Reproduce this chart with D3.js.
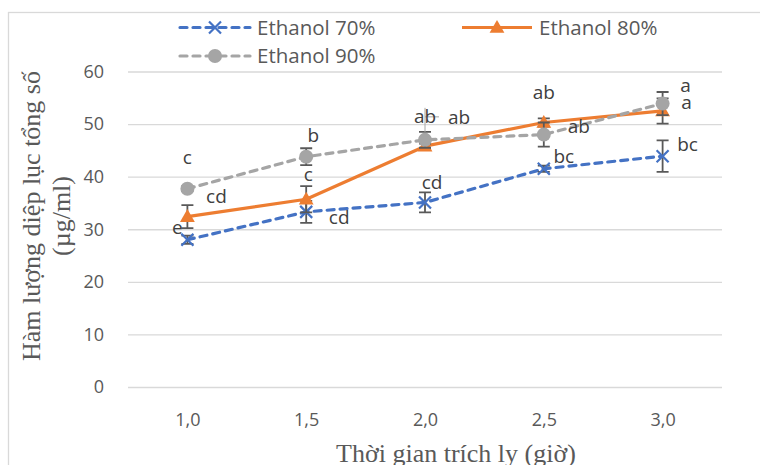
<!DOCTYPE html>
<html><head><meta charset="utf-8">
<script src="https://cdn.jsdelivr.net/npm/d3@7"></script>
<style>body{margin:0;background:#fff}svg{display:block}</style>
</head><body><svg id="c" width="760" height="465"></svg>
<script>
// ---- data ----
const categories = ["1,0", "1,5", "2,0", "2,5", "3,0"];
const seriesNames = ["Ethanol 70%", "Ethanol 80%", "Ethanol 90%"];
const values70 = [28.0, 33.3, 35.1, 41.5, 43.9];
const errors70 = [0.8, 2.1, 1.9, 0.6, 3.0];
const letters70 = ["e", "cd", "cd", "bc", "bc"];
const values80 = [32.4, 35.7, 45.8, 50.3, 52.5];
const errors80 = [2.2, 2.5, 0.5, 0.8, 2.4];
const letters80 = ["cd", "c", "ab", "ab", "a"];
const values90 = [37.7, 43.8, 47.0, 48.0, 53.9];
const errors90 = [0.5, 1.6, 1.5, 2.3, 2.2];
const letters90 = ["c", "b", "ab", "ab", "a"];
const yTicks = [0, 10, 20, 30, 40, 50, 60];
const xTitle = "Thời gian trích ly (giờ)";
const yTitle = ["Hàm lượng diệp lục tổng số", "(µg/ml)"];

// ---- layout / style ----
const svg = d3.select("#c");
const L = 128, R = 722, T = 71.5, B = 387;
const x = d3.scalePoint().domain(categories).range([L, R]).padding(0.5);
const y = d3.scaleLinear().domain([0, 60]).range([B, T]);
const sans = "'Open Sans', 'Noto Sans', sans-serif";
const serif = "'Liberation Serif', 'Times New Roman', serif";
const txt = "#595959";

// label offsets (px) relative to the point
const off70 = [[-10, -12], [33, 5], [7, -20], [20, -12], [25, -12]];
const off80 = [[29, -20], [2, -25], [0, -30], [0, -30], [24, -9]];
const off90 = [[0, -31], [7, -21], [34, -23], [35, -8], [23, -18]];

const series = [
  {name: seriesNames[0], v: values70, e: errors70, lab: letters70, off: off70, color: "#4472C4", dash: "7,6", marker: "x"},
  {name: seriesNames[1], v: values80, e: errors80, lab: letters80, off: off80, color: "#ED7D31", dash: null, marker: "tri"},
  {name: seriesNames[2], v: values90, e: errors90, lab: letters90, off: off90, color: "#A5A5A5", dash: "7,6", marker: "circle"}
];

// chart frame
svg.append("rect").attr("x", 8.5).attr("y", 12.5).attr("width", 800).attr("height", 500)
  .attr("fill", "none").attr("stroke", "#D9D9D9").attr("stroke-width", 1.3);

// gridlines
const yAxis = d3.axisLeft(y).tickValues(yTicks).tickSize(-(R - L)).tickPadding(24).tickFormat(d3.format("d"));
const gy = svg.append("g").attr("transform", `translate(${L},0)`).call(yAxis);
gy.select(".domain").remove();
gy.selectAll(".tick line").attr("stroke", "#D9D9D9").attr("stroke-width", 1.3);
gy.selectAll(".tick text").attr("fill", txt).style("font-family", sans).style("font-size", "18px");

const xAxis = d3.axisBottom(x).tickSize(0).tickPadding(26);
const gx = svg.append("g").attr("transform", `translate(0,${B})`).call(xAxis);
gx.select(".domain").remove();
gx.selectAll(".tick text").attr("fill", txt).style("font-family", sans).style("font-size", "18px");

// axis titles
svg.append("text").attr("x", 456).attr("y", 462).attr("text-anchor", "middle")
  .attr("fill", txt).style("font-family", serif).style("font-size", "26px").text(xTitle);
yTitle.forEach((t, i) => {
  svg.append("text").attr("transform", `translate(${40 + i * 30},216) rotate(-90)`)
    .attr("text-anchor", "middle").attr("fill", txt)
    .style("font-family", serif).style("font-size", "26px").text(t);
});

function drawMarker(g, type, cx, cy, color) {
  if (type === "x") {
    const s = 6;
    g.append("path").attr("d", `M${cx - s},${cy - s}L${cx + s},${cy + s}M${cx - s},${cy + s}L${cx + s},${cy - s}`)
      .attr("stroke", color).attr("stroke-width", 2.2).attr("fill", "none");
  } else if (type === "tri") {
    g.append("path").attr("d", d3.symbol(d3.symbolTriangle, 95)())
      .attr("transform", `translate(${cx},${cy + 1})`).attr("fill", color);
  } else {
    g.append("circle").attr("cx", cx).attr("cy", cy).attr("r", 7).attr("fill", color);
  }
}

const line = d3.line().x((d, i) => x(categories[i])).y(d => y(d));
series.forEach(s => {
  const g = svg.append("g");
  const p = g.append("path").datum(s.v).attr("d", line).attr("fill", "none")
    .attr("stroke", s.color).attr("stroke-width", 3.2).attr("stroke-linejoin", "round");
  if (s.dash) p.attr("stroke-dasharray", s.dash).attr("stroke-linecap", "round");
  // error bars
  s.v.forEach((v, i) => {
    const cx = x(categories[i]), y1 = y(v + s.e[i]), y2 = y(v - s.e[i]);
    g.append("path").attr("d", `M${cx},${y1}L${cx},${y2}M${cx - 6},${y1}L${cx + 6},${y1}M${cx - 6},${y2}L${cx + 6},${y2}`)
      .attr("stroke", "#595959").attr("stroke-width", 1.8).attr("fill", "none");
  });
  s.v.forEach((v, i) => drawMarker(g, s.marker, x(categories[i]), y(v), s.color));
});

// leader line for the displaced 90% label at 2,0
{
  const cx = x(categories[2]), cy = y(values90[2]);
  svg.append("path").attr("d", `M${cx},${cy - 7}L${cx},${cy - 32}M${cx},${cy - 23}L${cx + 14},${cy - 23}`)
    .attr("stroke", "#A6A6A6").attr("stroke-width", 1).attr("fill", "none");
}

// significance letters
series.forEach(s => {
  s.v.forEach((v, i) => {
    svg.append("text").attr("x", x(categories[i]) + s.off[i][0]).attr("y", y(v) + s.off[i][1])
      .attr("dy", "0.35em").attr("text-anchor", "middle").attr("fill", "#404040")
      .style("font-family", sans).style("font-size", "19px").text(s.lab[i]);
  });
});

// legend
const leg = [
  {s: series[0], lx: 180, ly: 27.5},
  {s: series[1], lx: 462, ly: 27.5},
  {s: series[2], lx: 180, ly: 56}
];
leg.forEach(o => {
  const g = svg.append("g");
  const p = g.append("line").attr("x1", o.lx).attr("x2", o.lx + 70).attr("y1", o.ly).attr("y2", o.ly)
    .attr("stroke", o.s.color).attr("stroke-width", 3.2);
  if (o.s.dash) p.attr("stroke-dasharray", o.s.dash).attr("stroke-linecap", "round");
  drawMarker(g, o.s.marker, o.lx + 35, o.ly, o.s.color);
  g.append("text").attr("x", o.lx + 77).attr("y", o.ly).attr("dy", "0.35em").attr("fill", txt)
    .style("font-family", sans).style("font-size", "20.5px").text(o.s.name);
});
</script></body></html>
